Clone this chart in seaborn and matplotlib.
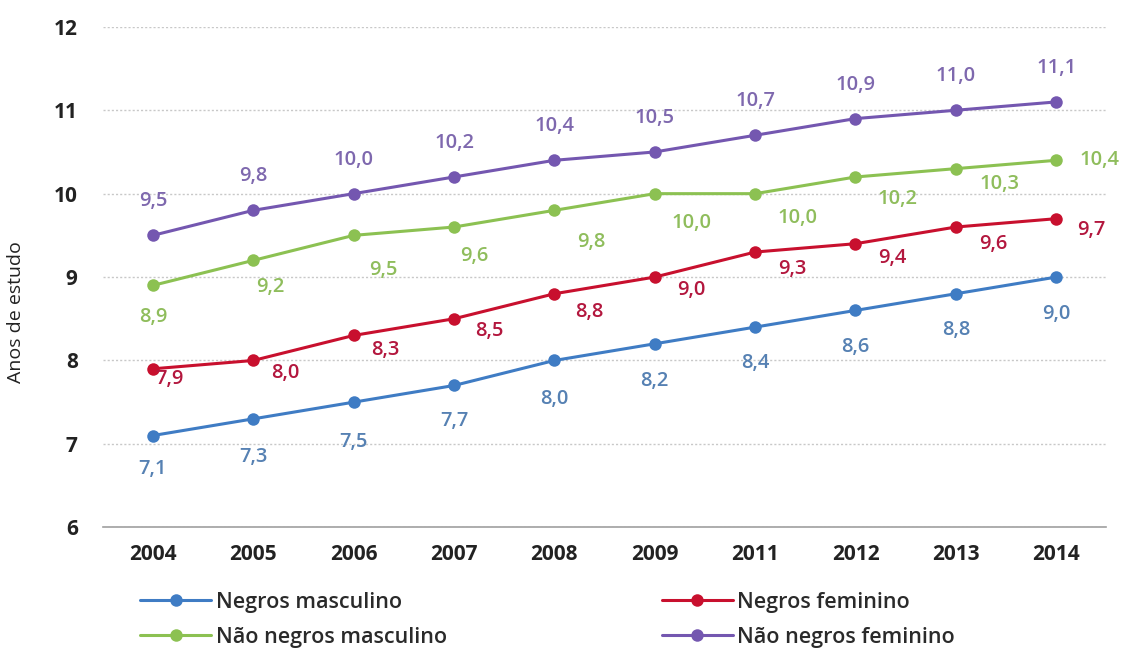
import pandas as pd
import matplotlib.pyplot as plt
import seaborn as sns

anos = ['2004', '2005', '2006', '2007', '2008', '2009', '2011', '2012', '2013', '2014']
negros_masc = [7.1, 7.3, 7.5, 7.7, 8.0, 8.2, 8.4, 8.6, 8.8, 9.0]
negros_fem = [7.9, 8.0, 8.3, 8.5, 8.8, 9.0, 9.3, 9.4, 9.6, 9.7]
nao_negros_masc = [8.9, 9.2, 9.5, 9.6, 9.8, 10.0, 10.0, 10.2, 10.3, 10.4]
nao_negros_fem = [9.5, 9.8, 10.0, 10.2, 10.4, 10.5, 10.7, 10.9, 11.0, 11.1]
grupos = ['Negros masculino', 'Não negros masculino', 'Negros feminino', 'Não negros feminino']

series = dict(zip(grupos, [negros_masc, nao_negros_masc, negros_fem, nao_negros_fem]))
cores = {'Negros masculino': '#3f7cc4', 'Negros feminino': '#c8102e',
         'Não negros masculino': '#8cc152', 'Não negros feminino': '#7457b0'}
cores_rot = {'Negros masculino': '#5681b3', 'Negros feminino': '#b3173e',
             'Não negros masculino': '#8fbd5c', 'Não negros feminino': '#7e68ae'}

# label offsets in pixels (dx, dy)
offs = {
    'Negros masculino': [(0, -33), (0, -38), (0, -40), (0, -36), (0, -39), (0, -37), (0, -36), (0, -37), (0, -36), (0, -37)],
    'Negros feminino': [(17, -10), (32, -13), (32, -15), (35, -12), (35, -18), (37, -13), (37, -17), (37, -14), (37, -17), (35, -11)],
    'Não negros masculino': [(0, -32), (17, -27), (30, -35), (20, -29), (37, -32), (37, -29), (42, -24), (42, -22), (44, -15), (43, 0)],
    'Não negros feminino': [(0, 34)] * 10,
}

df = pd.concat([pd.DataFrame({'ano': anos, 'valor': v, 'grupo': g}) for g, v in series.items()])

sns.set_style('white')
plt.rcParams['font.family'] = ['Open Sans', 'DejaVu Sans']

fig = plt.figure(figsize=(11.29, 6.55), dpi=100)
ax = fig.add_axes([0.091, 0.195, 0.889, 0.764])
sns.lineplot(data=df, x='ano', y='valor', hue='grupo', hue_order=grupos, palette=cores,
             marker='o', markersize=9, markeredgewidth=0, linewidth=2.2, sort=False, ax=ax, legend=True)

for g, v in series.items():
    for i, (a, val) in enumerate(zip(anos, v)):
        dx, dy = offs[g][i]
        ax.annotate(f'{val:.1f}'.replace('.', ','), (i, val), xytext=(dx, dy), textcoords='offset pixels',
                    ha='center', va='center', fontsize=14.5, fontweight='semibold', color=cores_rot[g])

ax.set_ylim(6, 12)
ax.set_xlim(-0.5, len(anos) - 0.5)
ax.set_yticks(range(6, 13))
ax.set_xlabel('')
ax.set_ylabel('Anos de estudo', fontsize=14, color='#222222')
ax.yaxis.set_label_coords(-0.077, 0.43)
ax.grid(axis='y', linestyle=(0, (1.5, 1.5)), color='#c8c8c8', linewidth=1)
for s in ['top', 'right', 'left']:
    ax.spines[s].set_visible(False)
ax.spines['bottom'].set_color('#a0a0a0')
ax.spines['bottom'].set_linewidth(1.2)
ax.tick_params(axis='x', direction='in', length=5, color='#c0c0c0', pad=12, labelsize=15)
ax.tick_params(axis='y', length=0, pad=18, labelsize=15)
for t in ax.get_xticklabels() + ax.get_yticklabels():
    t.set_fontweight('bold')
    t.set_color('#222222')

h, l = ax.get_legend_handles_labels()
ax.get_legend().remove()
fig.legend(h, l, loc='upper left', bbox_to_anchor=(0.107, 0.126), ncol=2, frameon=False,
           handlelength=3.3, handletextpad=0.2, columnspacing=10.0, labelspacing=0.65,
           prop={'size': 15.5, 'weight': 'semibold'}, labelcolor='#2a2a2a')

fig.savefig('out.png', dpi=100)
